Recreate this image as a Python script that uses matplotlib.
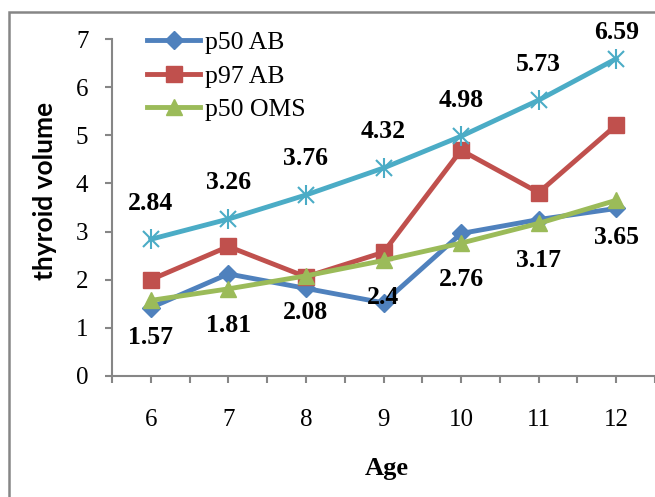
import matplotlib.pyplot as plt
from matplotlib.patches import Rectangle

ages = [6, 7, 8, 9, 10, 11, 12]
p50_ab = [1.42, 2.12, 1.82, 1.52, 2.96, 3.25, 3.48]
p97_ab = [2.0, 2.69, 2.06, 2.57, 4.69, 3.81, 5.21]
p50_oms = [1.57, 1.81, 2.08, 2.4, 2.76, 3.17, 3.65]
p97_oms = [2.84, 3.26, 3.76, 4.32, 4.98, 5.73, 6.59]

serif = "Liberation Serif"

fig = plt.figure(figsize=(6.55, 4.97), dpi=100)
ax = fig.add_axes([112 / 655, 121 / 497, 543 / 655, 337 / 497])

# outer chart border (right and bottom fall outside the picture)
fig.patches.append(Rectangle((9 / 655, -0.1), 1.2, 1.1 - 12 / 497,
                             transform=fig.transFigure, fill=False,
                             edgecolor="#868686", linewidth=1.8))

ax.plot(ages, p50_ab, color="#4F81BD", lw=3.5, marker="D", ms=9,
        label="p50 AB", zorder=3)
ax.plot(ages, p97_ab, color="#C0504D", lw=3.5, marker="s", ms=11,
        label="p97 AB", zorder=3)
ax.plot(ages, p50_oms, color="#9BBB59", lw=3.5, marker="^", ms=12,
        label="p50 OMS", zorder=4)
ax.plot(ages, p97_oms, color="#4BACC6", lw=3.5, marker="x", ms=11,
        mew=1.5, zorder=3)
ax.plot(ages, p97_oms, color="#4BACC6", ls="none", marker="|", ms=15,
        mew=1.5, zorder=3)

# data labels
top_off = [26, 26, 26, 26, 26, 26, 19]
for x, y, off in zip(ages, p97_oms, top_off):
    ax.annotate(f"{y:g}", (x, y), xytext=(0, off), textcoords="offset points",
                ha="center", va="center", fontsize=18.5, fontweight="bold",
                family=serif, zorder=6)
for x, y in zip(ages, p50_oms):
    ax.annotate(f"{y:g}", (x, y), xytext=(0, -26.5), textcoords="offset points",
                ha="center", va="center", fontsize=18.5, fontweight="bold",
                family=serif, zorder=6)

ax.set_xlim(5.5, 5.5 + 543 / 78.3)
ax.set_ylim(0, 7)
ax.set_xticks(ages)
ax.set_xticks([a + 0.5 for a in [5] + ages], minor=True)
ax.set_yticks(range(0, 8))

for s in ["top", "right"]:
    ax.spines[s].set_visible(False)
for s in ["left", "bottom"]:
    ax.spines[s].set_color("#868686")
    ax.spines[s].set_linewidth(1.5)
    ax.spines[s].set_clip_on(False)

ax.tick_params(axis="both", which="both", direction="out", length=5,
               width=1.5, color="#868686")
ax.tick_params(axis="x", which="major", length=5, pad=19)
ax.tick_params(axis="y", pad=12)
for lab in ax.get_xticklabels() + ax.get_yticklabels():
    lab.set_family(serif)
    lab.set_fontsize(18)

fig.text(45 / 655, 1 - 191 / 497, "thyroid volume", rotation=90,
         ha="center", va="center", fontsize=19, fontweight="bold",
         family="Lato")
fig.text(387 / 655, 1 - 468 / 497, "Age", ha="center", va="center",
         fontsize=19, fontweight="bold", family=serif)

leg = ax.legend(loc="upper left", bbox_to_anchor=(0.06, 1.03), frameon=False,
                prop={"family": serif, "size": 18.5}, handlelength=2.06,
                handletextpad=0.2, labelspacing=0.41, borderaxespad=0,
                borderpad=0.1)

plt.savefig("out.png", dpi=100)
